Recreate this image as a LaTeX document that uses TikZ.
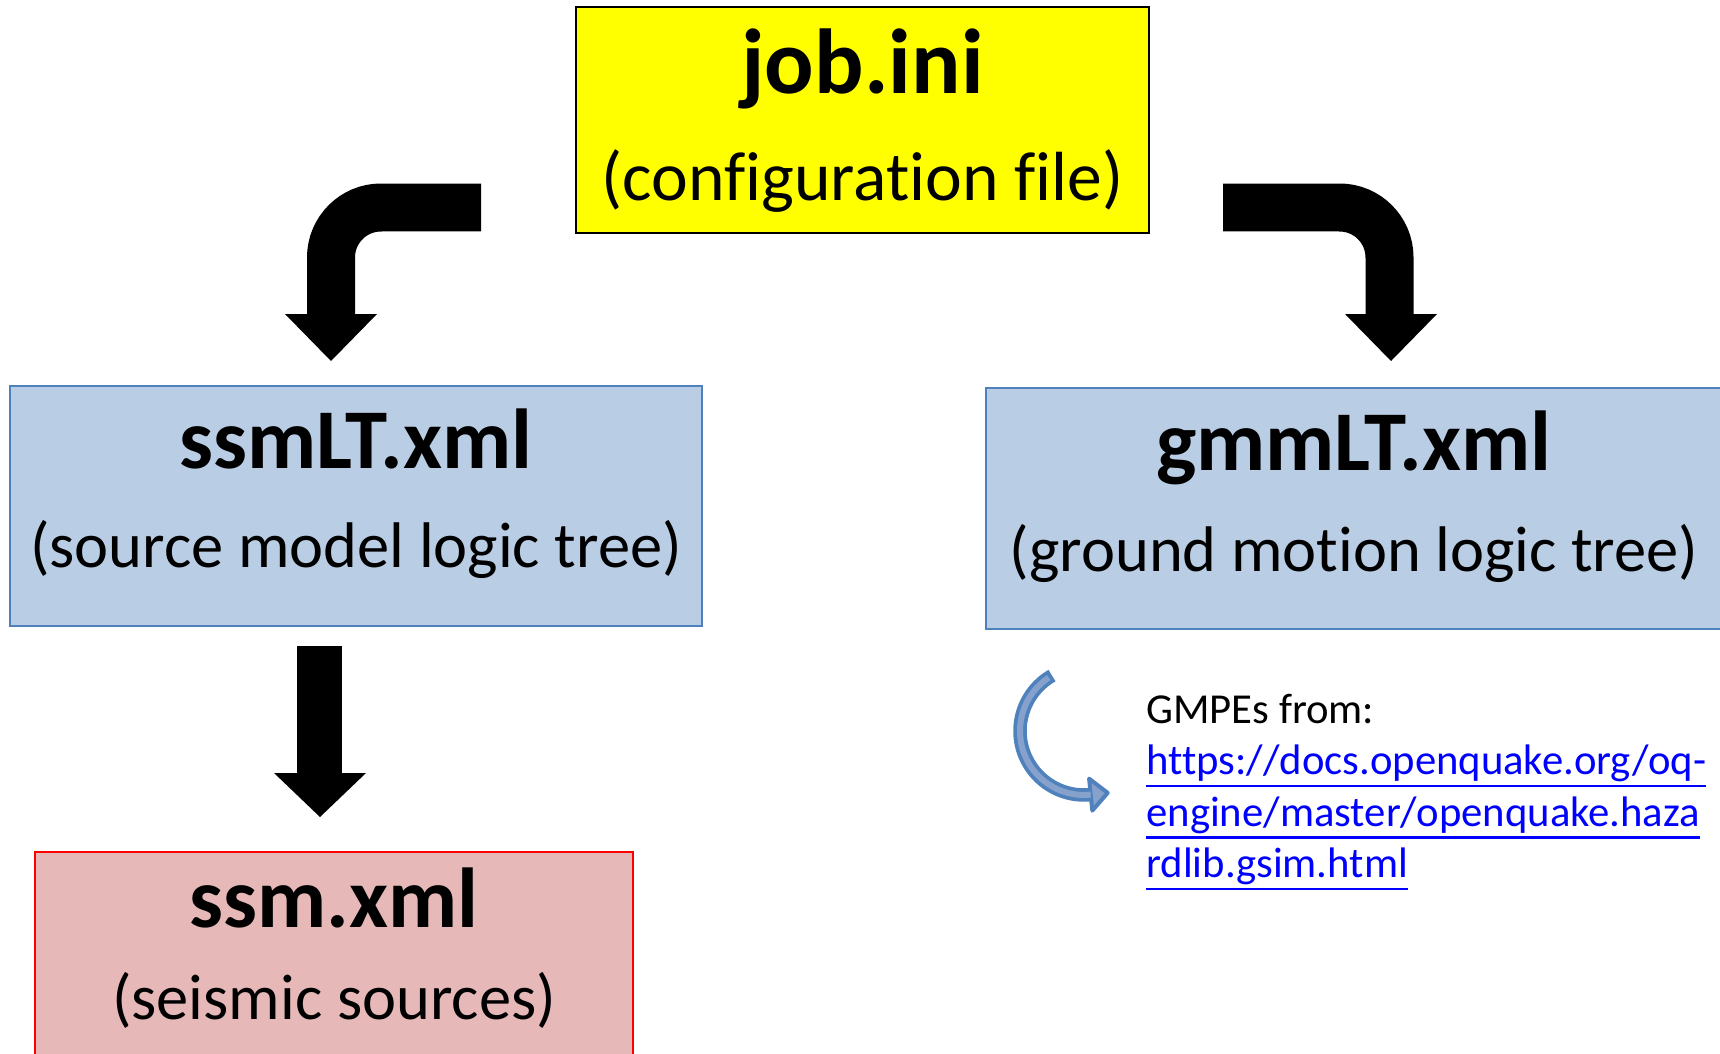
\documentclass[tikz,border=0pt]{standalone}
\usepackage{fontspec}
\setmainfont{Carlito}[Ligatures=NoCommon]
\usetikzlibrary{calc}
\definecolor{boxyellow}{HTML}{FFFF00}
\definecolor{boxblue}{HTML}{B9CDE5}
\definecolor{edgeblue}{HTML}{4F81BD}
\definecolor{boxpink}{HTML}{E6B9B8}
\definecolor{linkblue}{HTML}{0000FF}
\definecolor{curvefill}{HTML}{86A1CC}
\newcommand{\titlesize}{\fontsize{48.4}{56}\selectfont\bfseries}
\newcommand{\subsize}{\fontsize{36.7}{44}\selectfont}
\newcommand{\linkline}[1]{\leavevmode\setbox0\hbox{\color{linkblue}#1}\rlap{\color{linkblue}\rule[-7pt]{\wd0}{1.3pt}}\box0}

\begin{document}
\begin{tikzpicture}[x=0.02cm,y=0.02cm,
    every node/.style={inner sep=0pt},
    filebox/.style={draw,line width=0.03cm},
    shaft/.style={black,line width=0.96cm,rounded corners=1cm}]
        \useasboundingbox (0,0) rectangle (1720,-1054);
        \node [filebox,fill=boxyellow,minimum width=11.46cm,minimum height=4.52cm] (job) at (862.5,-120) {};
        \node [anchor=base] (jobname) at (862.5,-94) {\fontsize{52.5}{60}\selectfont\bfseries job.ini};
        \node [anchor=base] (jobnote) at (862.5,-201) {\fontsize{39.6}{46}\selectfont (configuration file)};
        \node [filebox,draw=edgeblue,fill=boxblue,minimum width=13.84cm,minimum height=4.8cm] (ssmlt) at (356,-506) {};
        \node [anchor=base] (ssmltname) at (356,-468) {\titlesize ssmLT.xml};
        \node [anchor=base] (ssmltnote) at (356,-567.5) {\subsize (source model logic tree)};
        \node [filebox,draw=edgeblue,fill=boxblue,minimum width=14.72cm,minimum height=4.82cm] (gmmlt) at (1354,-508.5) {};
        \node [anchor=base] (gmmltname) at (1354,-470) {\titlesize gmmLT.xml};
        \node [anchor=base] (gmmltnote) at (1354,-571) {\subsize (ground motion logic tree)};
        \node [filebox,draw=red,fill=boxpink,minimum width=11.96cm,minimum height=4.24cm] (ssm) at (334,-958) {};
        \node [anchor=base] (ssmname) at (334,-927) {\titlesize ssm.xml};
        \node [anchor=base] (ssmnote) at (334,-1019.5) {\subsize (seismic sources)};
        \coordinate (la) at (481,-207.5);
        \coordinate (lb) at (331,-207.5);
        \coordinate (lc) at (331,-314);
        \draw [shaft] (la) -- (lb) -- (lc);
        \fill [black] (285,-314) -- (377,-314) -- (331,-361) -- cycle;
        \coordinate (ra) at (1223,-207.5);
        \coordinate (rb) at (1389.5,-207.5);
        \coordinate (rc) at (1389.5,-314);
        \draw [shaft] (ra) -- (rb) -- (rc);
        \fill [black] (1345,-314) -- (1437,-314) -- (1391,-361) -- cycle;
        \coordinate (da) at (319.5,-646);
        \coordinate (db) at (319.5,-773);
        \draw [black,line width=0.9cm] (da) -- (db);
        \fill [black] (274,-773) -- (366,-773) -- (320,-817) -- cycle;
        \coordinate (gc) at (1084,-731);
        \coordinate (ge) at ($(gc)+(276:64)$);
        \draw [edgeblue,line width=0.27cm] ($(gc)+(120:64)$) arc (120:276:64);
        \filldraw [fill=curvefill,draw=edgeblue,line width=0.08cm,line join=round] ($(ge)+(-1.6,16)$) -- ($(ge)+(17,1.8)$) -- ($(ge)+(1.6,-16)$) -- cycle;
        \draw [curvefill,line width=0.12cm] ($(gc)+(123.5:64)$) arc (123.5:276:64);
        \node [anchor=north west,align=left,font=\fontsize{24.3}{29.2}\selectfont] (gmpe) at (1146,-694) {GMPEs from:\\
            \linkline{https://docs.openquake.org/oq-}\\
            \linkline{engine/master/openquake.haza}\\
            \linkline{rdlib.gsim.html}};
\end{tikzpicture}
\end{document}
